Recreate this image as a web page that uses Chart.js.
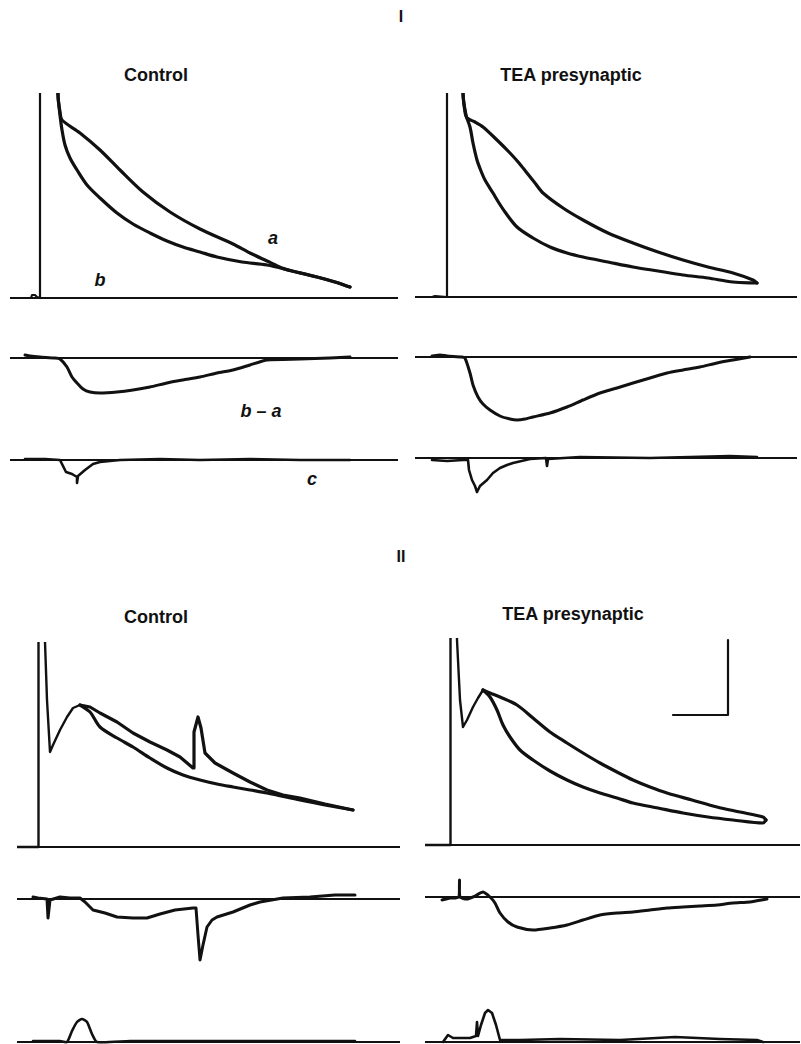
<!DOCTYPE html>
<html>
<head>
<meta charset="utf-8">
<script src="https://cdn.jsdelivr.net/npm/chart.js@4.4.1/dist/chart.umd.min.js"></script>
<style>
  body { margin: 0; background: #fff; }
  #page { position: relative; width: 801px; height: 1044px; overflow: hidden; background: #fff;
          font-family: "Liberation Sans", Arial, sans-serif; color: #111; }
  canvas { position: absolute; }
  .lbl { position: absolute; transform: translate(-50%, -50%); white-space: nowrap; }
  .title { font-weight: bold; font-size: 18px; }
  .sec { font-weight: bold; font-size: 16px; }
  .tr { font-weight: bold; font-style: italic; font-size: 18px; }
</style>
</head>
<body>
<div id="page">
  <div class="lbl sec" style="left:401px;top:17px">I</div>
  <div class="lbl title" style="left:156px;top:75px">Control</div>
  <div class="lbl title" style="left:571px;top:75px">TEA presynaptic</div>
  <div class="lbl tr" style="left:273px;top:238px">a</div>
  <div class="lbl tr" style="left:100px;top:280px">b</div>
  <div class="lbl tr" style="left:261px;top:411px">b – a</div>
  <div class="lbl tr" style="left:312px;top:479px">c</div>
  <div class="lbl sec" style="left:401px;top:557px">II</div>
  <div class="lbl title" style="left:156px;top:617px">Control</div>
  <div class="lbl title" style="left:573px;top:614px">TEA presynaptic</div>
</div>
<script>
// time in ms (0 = stimulus), amplitude in mV
// ---- I, control ----
const ctrl1Stim = [[-3.0,0],[-0.9,0],[-0.8,0.3],[-0.5,0.3],[-0.3,0.1],[0,0],[0,30]];
const ctrl1A = [[1.7,30],[1.8,20.3],[2.0,18.6],[2.2,17.8],[4.0,16.5],[6.0,14.8],[8.0,12.8],[10.3,10.6],
  [13.0,8.6],[16.0,6.9],[19.3,5.4],[21.0,4.5],[22.7,3.7],[24.2,3.0],[25.2,2.7],[27.7,2.1],[29.5,1.6],[31.0,1.1]];
const ctrl1B = [[1.7,30],[1.8,20.3],[2.0,18.3],[2.2,16.8],[2.5,15.3],[3.0,14.0],[3.7,12.8],[4.7,11.3],
  [6.0,10.0],[7.7,8.5],[9.3,7.4],[11.0,6.5],[12.7,5.7],[14.3,5.1],[16.0,4.6],[17.7,4.1],[20.2,3.6],
  [22.7,3.3],[25.2,2.7],[27.7,2.1],[29.5,1.6],[31.0,1.1]];
const ctrl1Diff = [[-1.5,0.3],[-1.0,0.2],[0,0.1],[1.5,0],[2.0,-0.1],[2.7,-0.9],[3.2,-1.9],[3.7,-2.5],
  [4.3,-3.1],[5.0,-3.4],[6.0,-3.5],[7.7,-3.4],[9.3,-3.2],[11.0,-2.9],[12.7,-2.5],[14.3,-2.2],
  [16.0,-1.9],[17.7,-1.5],[19.3,-1.2],[21.0,-0.7],[22.7,-0.2],[26.0,-0.1],[29.0,0],[31.0,0.1]];
const ctrl1C = [[-1.5,0.1],[0.5,0.1],[2.0,0],[2.2,-0.4],[2.6,-1.2],[3.2,-1.4],[3.7,-1.7],[3.7,-2.3],
  [3.8,-1.6],[4.5,-1.0],[5.3,-0.4],[6.0,-0.2],[8.0,0],[12.0,0.1],[16.0,0],[21.0,0.1],[26.0,0],[31.0,0]];

// ---- I, TEA presynaptic ----
const tea1Stim = [[-3.2,0],[-1.5,0],[-1.2,0.1],[0,0],[0,30]];
const tea1A = [[1.5,30],[1.6,20.4],[1.8,18.5],[2.0,17.9],[2.8,17.5],[3.6,17.0],[5.0,15.7],[6.3,14.4],
  [7.2,13.4],[8.0,12.4],[8.8,11.4],[9.6,10.4],[11.6,8.9],[13.6,7.7],[16.1,6.4],[18.6,5.4],[21.1,4.5],
  [23.6,3.7],[26.1,3.0],[28.6,2.4],[30.6,1.7],[31.0,1.4]];
const tea1B = [[1.5,30],[1.6,20.4],[1.9,18.2],[2.3,17.0],[2.6,15.4],[3.0,13.7],[3.4,12.6],[3.8,11.7],
  [4.6,10.4],[5.2,9.4],[5.8,8.5],[7.0,7.0],[8.6,5.9],[10.3,5.0],[12.0,4.4],[13.6,4.0],[16.1,3.5],
  [18.6,3.0],[21.1,2.6],[23.6,2.2],[26.1,1.9],[28.6,1.5],[31.0,1.4]];
const tea1Diff = [[-1.5,0.1],[-0.7,0.2],[0,0.1],[1.5,0],[1.8,-0.1],[2.3,-1.6],[2.6,-2.8],[3.1,-4.0],
  [3.6,-4.7],[4.3,-5.3],[5.3,-5.9],[6.3,-6.2],[7.0,-6.3],[7.8,-6.2],[8.6,-6.0],[10.3,-5.6],[12.0,-5.0],
  [13.6,-4.3],[15.3,-3.6],[17.0,-3.1],[18.6,-2.6],[20.3,-2.1],[22.0,-1.6],[23.6,-1.3],[25.3,-1.0],
  [27.0,-0.6],[28.6,-0.3],[30.3,0]];
const tea1C = [[-1.5,-0.2],[0,-0.3],[1.6,-0.2],[2.1,-0.2],[2.2,-1.2],[2.5,-2.2],[2.8,-2.8],[3.0,-3.4],
  [3.3,-2.8],[4.0,-2.2],[4.6,-1.5],[5.3,-1.0],[6.0,-0.7],[6.6,-0.5],[8.3,-0.1],[9.9,0],[10.0,-0.8],
  [10.1,-0.1],[13.3,0.1],[20.3,0],[28.3,0.2],[31.0,0.1]];

// ---- II, control ----
const ctrl2Early = [[-2.1,0],[-0.3,0],[0,0],[0.05,30],[0.65,30],[0.7,20.5],[0.9,14.7],[1.2,9.5],
  [1.5,10.2],[2.2,11.7],[2.9,13.0],[3.5,13.9],[4.2,14.2]];
const ctrl2A = [[4.2,14.2],[5.2,14.0],[6.2,13.4],[7.9,12.5],[9.5,11.4],[11.2,10.5],[12.9,9.7],[14.2,9.0],
  [15.5,7.9],[15.6,11.5],[16.0,13.0],[16.3,11.9],[16.7,9.4],[17.7,8.4],[19.5,7.4],[21.2,6.5],
  [22.9,5.7],[24.5,5.2],[26.2,4.9],[28.7,4.3],[31.5,3.7]];
const ctrl2B = [[4.2,14.2],[5.2,13.5],[6.2,12.0],[7.9,10.9],[9.5,10.0],[11.2,8.9],[12.9,7.9],[14.5,7.2],
  [16.2,6.7],[17.9,6.3],[19.5,6.0],[21.2,5.7],[22.9,5.4],[26.2,4.7],[28.7,4.2],[31.5,3.7]];
const ctrl2Diff = [[-0.5,0.2],[0,0.1],[0.9,0],[1.0,-1.9],[1.2,-0.1],[2.2,0.2],[3.2,0.1],[4.2,0.1],
  [4.7,-0.3],[5.5,-1.1],[6.7,-1.4],[7.9,-1.8],[9.5,-1.9],[10.9,-1.9],[12.2,-1.5],[13.7,-1.1],
  [15.5,-0.9],[15.8,-0.9],[16.0,-3.6],[16.2,-6.1],[16.5,-4.6],[16.9,-2.8],[17.4,-2.1],[17.9,-1.8],
  [19.5,-1.3],[21.2,-0.6],[22.2,-0.3],[24.5,0.1],[27.2,0.2],[29.7,0.4],[31.7,0.4]];
const ctrl2C = [[-0.5,0.1],[2.2,0.1],[2.9,0],[3.4,1.1],[3.9,2.0],[4.4,2.3],[4.9,2.0],[5.4,0.8],[5.9,0],
  [9.2,0.1],[16.2,0.1],[24.2,0.1],[31.7,0.1]];

// ---- II, TEA presynaptic ----
const tea2Early = [[-2.5,0],[-0.4,0],[0,0],[0.05,30],[0.65,30],[0.7,20.5],[1.0,14.5],[1.3,11.8],
  [1.7,12.5],[2.3,13.8],[2.8,14.7],[3.3,15.5]];
const tea2A = [[3.3,15.5],[4.0,15.2],[5.0,14.8],[6.7,14.0],[8.3,12.7],[10.0,11.3],[11.7,10.2],[13.3,9.2],
  [15.0,8.2],[16.7,7.3],[18.3,6.5],[20.0,5.8],[21.7,5.2],[24.2,4.5],[26.7,3.8],[29.0,3.3],[31.3,2.8],
  [31.6,2.5]];
const tea2B = [[3.3,15.5],[4.0,14.8],[4.7,13.5],[5.3,12.0],[6.0,10.8],[7.0,9.5],[8.3,8.5],[10.0,7.4],
  [11.7,6.5],[13.3,5.8],[15.0,5.2],[16.7,4.7],[18.3,4.2],[20.8,3.7],[23.3,3.2],[25.8,2.8],[28.3,2.5],
  [31.3,2.2],[31.6,2.5]];
const tea2Diff = [[-0.8,-0.3],[0,-0.1],[0.5,-0.1],[0.9,0],[0.95,1.7],[1.0,0],[1.7,-0.2],[2.5,0.1],
  [3.3,0.5],[4.0,0],[4.5,-0.6],[5.0,-1.6],[5.8,-2.5],[6.7,-3.0],[8.3,-3.3],[10.0,-3.1],[11.7,-2.8],
  [13.3,-2.3],[15.0,-1.8],[16.7,-1.6],[18.3,-1.5],[20.0,-1.3],[21.7,-1.1],[23.3,-1.0],[25.0,-0.9],
  [26.7,-0.8],[28.3,-0.6],[30.0,-0.5],[31.7,-0.2]];
const tea2C = [[-0.7,0],[-0.2,0.7],[0.3,0.4],[2.0,0.4],[2.6,0.6],[2.7,2.0],[2.8,0.6],[3.1,1.7],[3.5,2.9],
  [3.8,3.2],[4.2,2.9],[4.6,1.7],[5.0,0.2],[7.0,0.2],[11.0,0.3],[17.0,0.2],[22.5,0.5],[27.0,0.3],
  [30.7,0.2],[31.3,0]];
// calibration bar (drawn in the II TEA panel)
const scaleBar = [[22.3,13.0],[27.8,13.0],[27.8,20.5]];

// ---- layout (pixels) ----
const PX_MS = 10, PX_MV = 10;
const page = document.getElementById('page');

// traces: list of [points, lineWidth, tension]
function panel(artX, xMin, xMax, zeroY, yMin, yMax, traces) {
  const cv = document.createElement('canvas');
  cv.width = Math.round((xMax - xMin) * PX_MS);
  cv.height = Math.round((yMax - yMin) * PX_MV);
  cv.style.left = Math.round(artX + xMin * PX_MS) + 'px';
  cv.style.top = Math.round(zeroY - yMax * PX_MV) + 'px';
  page.appendChild(cv);

  const sets = [{ data: [{x: xMin, y: 0}, {x: xMax, y: 0}], borderWidth: 2.2, tension: 0 }];
  traces.forEach(t => {
    sets.push({ data: t[0].map(p => ({x: p[0], y: p[1]})), borderWidth: t[1], tension: t[2] || 0 });
  });
  sets.forEach(s => {
    s.borderColor = '#111';
    s.pointRadius = 0;
    s.fill = false;
    s.borderJoinStyle = 'round';
    s.borderCapStyle = 'round';
    s.clip = 0;
  });

  new Chart(cv, {
    type: 'line',
    data: { datasets: sets },
    options: {
      responsive: false,
      animation: false,
      events: [],
      layout: { padding: 0 },
      plugins: { legend: { display: false }, tooltip: { enabled: false } },
      scales: {
        x: { type: 'linear', min: xMin, max: xMax, display: false },
        y: { type: 'linear', min: yMin, max: yMax, display: false }
      }
    }
  });
}

const W = 3.2;
// I control
panel(40, -3.0, 35.8, 298, -1, 20.5, [[ctrl1Stim, 2.2], [ctrl1A, W, 0.3], [ctrl1B, W, 0.3]]);
panel(40, -3.0, 35.8, 358, -4.5, 1, [[ctrl1Diff, 3, 0.2]]);
panel(40, -3.0, 35.8, 460, -3, 1, [[ctrl1C, 2.6]]);
// I TEA
panel(447, -3.2, 35.0, 297, -1, 20.4, [[tea1Stim, 2.2], [tea1A, W, 0.3], [tea1B, W, 0.3]]);
panel(447, -3.2, 35.0, 357, -7, 1, [[tea1Diff, 3, 0.2]]);
panel(447, -3.2, 35.0, 458, -4, 1, [[tea1C, 2.6]]);
// II control
panel(38, -2.1, 36.2, 847, -1, 20.5, [[ctrl2Early, 2.4], [ctrl2A, W], [ctrl2B, W, 0.3]]);
panel(38, -2.1, 36.2, 899, -7, 1, [[ctrl2Diff, 3]]);
panel(38, -2.1, 36.2, 1042, -0.2, 3, [[ctrl2C, 2.6, 0.2]]);
// II TEA
panel(450, -2.5, 35.0, 845, -1, 20.7, [[tea2Early, 2.4], [tea2A, W, 0.3], [tea2B, W, 0.3], [scaleBar, 2.2]]);
panel(450, -2.5, 35.0, 897, -4, 2.5, [[tea2Diff, 3, 0.2]]);
panel(450, -2.5, 35.0, 1042, -0.2, 3.8, [[tea2C, 2.6]]);
</script>
</body>
</html>
